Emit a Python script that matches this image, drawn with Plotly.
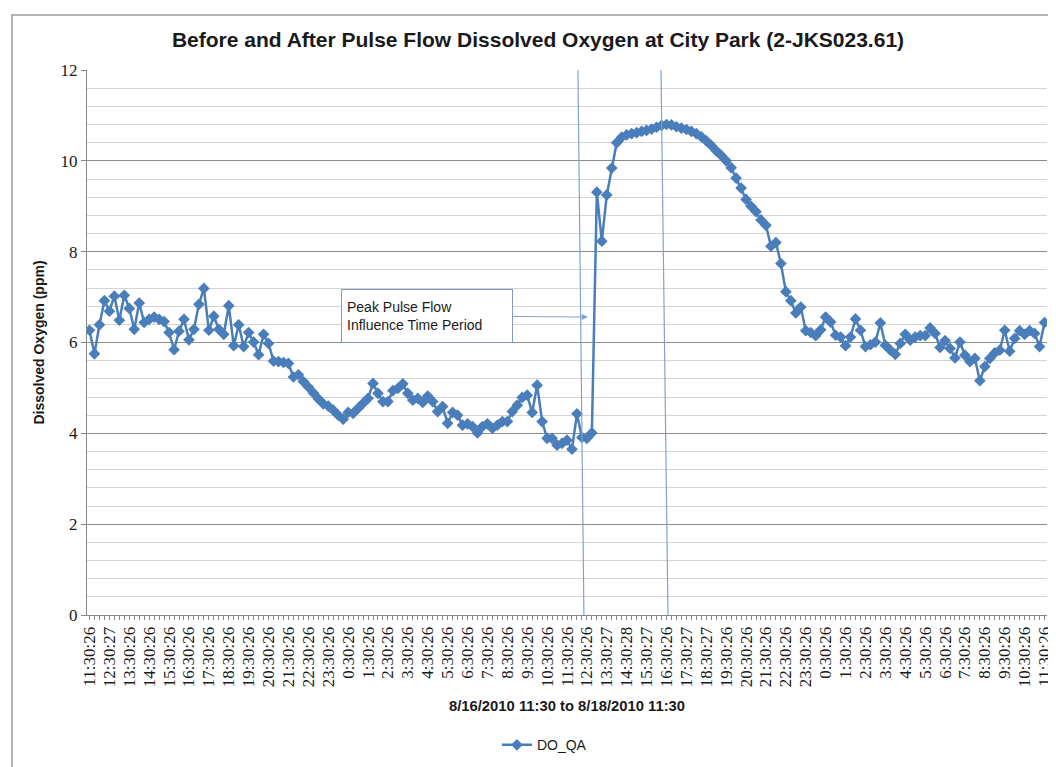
import plotly.graph_objects as go

title_text = "Before and After Pulse Flow Dissolved Oxygen at City Park (2-JKS023.61)"
x_title = "8/16/2010 11:30 to 8/18/2010 11:30"
y_title = "Dissolved Oxygen (ppm)"
series_name = "DO_QA"

# hourly tick labels (one label every 4 readings, 15-minute interval)
hour_labels = [
    "11:30:26", "12:30:27", "13:30:26", "14:30:26", "15:30:26", "16:30:26", "17:30:26",
    "18:30:26", "19:30:26", "20:30:26", "21:30:26", "22:30:26", "23:30:26", "0:30:26",
    "1:30:26", "2:30:26", "3:30:26", "4:30:26", "5:30:26", "6:30:26", "7:30:26",
    "8:30:26", "9:30:26", "10:30:26", "11:30:26", "12:30:26", "13:30:27", "14:30:28",
    "15:30:27", "16:30:26", "17:30:27", "18:30:27", "19:30:26", "20:30:26", "21:30:26",
    "22:30:26", "23:30:26", "0:30:26", "1:30:26", "2:30:26", "3:30:26", "4:30:26",
    "5:30:26", "6:30:26", "7:30:26", "8:30:26", "9:30:26", "10:30:26", "11:30:26",
]

do_day1 = [
    6.27, 5.75, 6.39, 6.92, 6.69, 7.02, 6.49, 7.04, 6.75, 6.29,
    6.87, 6.44, 6.51, 6.56, 6.51, 6.46, 6.22, 5.84, 6.25, 6.51,
    6.06, 6.29, 6.84, 7.19, 6.27, 6.58, 6.29, 6.18, 6.81, 5.93,
    6.39, 5.91, 6.22, 6.01, 5.73, 6.18, 5.98, 5.59, 5.58, 5.56,
    5.54, 5.24, 5.29, 5.14, 5.02, 4.89, 4.76, 4.65, 4.60, 4.51,
]
do_night1 = [
    4.40, 4.31, 4.46, 4.44, 4.55, 4.66, 4.77, 5.10, 4.88, 4.70,
    4.70, 4.94, 4.99, 5.09, 4.88, 4.73, 4.77, 4.68, 4.82, 4.70,
    4.48, 4.59, 4.22, 4.46, 4.40, 4.18, 4.21, 4.15, 4.01, 4.15,
    4.21, 4.11, 4.18, 4.26, 4.26, 4.48, 4.62, 4.79, 4.84, 4.46,
    5.06, 4.26, 3.89, 3.89, 3.74, 3.78, 3.85, 3.65, 4.43, 3.91,
    3.89, 4.01,
]
do_pulse = [
    9.31, 8.23, 9.25, 9.84, 10.40, 10.52, 10.57, 10.60, 10.62, 10.65,
    10.67, 10.70, 10.74, 10.78, 10.80, 10.79, 10.75, 10.72, 10.69, 10.65,
    10.60, 10.53, 10.44, 10.34, 10.22, 10.12,
]
do_after = [
    10.00, 9.85, 9.62, 9.40, 9.15, 9.00, 8.88, 8.70, 8.58, 8.12,
    8.20, 7.74, 7.12, 6.92, 6.65, 6.78, 6.26, 6.22, 6.15, 6.28,
    6.56, 6.45, 6.16, 6.12, 5.93, 6.12, 6.52, 6.27, 5.91, 5.95,
    6.01, 6.43, 5.94, 5.83, 5.74, 5.98, 6.18, 6.05, 6.12, 6.15,
    6.15, 6.32, 6.20, 5.89, 6.04, 5.87, 5.66, 6.01, 5.72, 5.58,
    5.65, 5.16, 5.47, 5.65, 5.77, 5.83, 6.27, 5.81, 6.09, 6.26,
    6.18, 6.26, 6.20, 5.91, 6.44,
]
do_values = do_day1 + do_night1 + do_pulse + do_after

# pulse window markers (category positions at bottom and top of the drawn lines)
pulse_start = [99.4, 98.2]
pulse_end = [116.3, 114.9]
note_text = "Peak Pulse Flow<br>Influence Time Period"
note_pos = [67.8, 6.59]
note_target = [100.2, 6.56]

x_idx = list(range(len(do_values)))
tick_vals = x_idx[::4]

blue = "#4a7ebb"
line_blue = "#7fa3d2"

# the page body adds an 8px offset; the figure is sized to fit the window
W, H = 1048, 759
L, T = 79, 62
PW, PH = 960, 545

fig = go.Figure()
fig.add_trace(go.Scatter(
    x=x_idx, y=do_values, name=series_name, mode="lines+markers",
    line=dict(color=blue, width=2.5),
    marker=dict(symbol="diamond", size=9, color=blue),
))

for xs in (pulse_start, pulse_end):
    fig.add_shape(type="line", xref="x", yref="y", x0=xs[0], y0=0, x1=xs[1], y1=12,
                  line=dict(color=line_blue, width=1.2))

# outer chart-area frame
fig.add_shape(type="rect", xref="paper", yref="paper",
              x0=(4 - L) / PW, x1=(1060 - L) / PW,
              y0=-(790 - T - PH) / PH - 0.05, y1=(T + PH - 7) / PH,
              line=dict(color="#9a9a9a", width=1.5), layer="below")

fig.add_annotation(
    x=note_target[0], y=note_target[1], ax=note_pos[0], ay=note_pos[1],
    axref="x", ayref="y", xref="x", yref="y",
    text=note_text, showarrow=True, arrowhead=2, arrowsize=1.2, arrowwidth=1,
    arrowcolor=line_blue, align="left", width=160, height=42,
    bordercolor="#7f9cc0", borderwidth=1, borderpad=5, bgcolor="white",
    font=dict(family="Liberation Sans, Arial, sans-serif", size=14, color="#1a1a1a"),
)

fig.update_layout(
    width=W, height=H,
    margin=dict(l=L, r=W - L - PW, t=T, b=H - T - PH, autoexpand=False),
    paper_bgcolor="white", plot_bgcolor="white",
    title=dict(text="<b>" + title_text + "</b>", x=530 / W, xanchor="center",
               y=1 - 32 / H, yanchor="middle",
               font=dict(family="Liberation Sans, Arial, sans-serif", size=21, color="#1a1a1a")),
    showlegend=True,
    legend=dict(orientation="h", x=0.427, xanchor="left", y=-0.239, yanchor="middle",
                font=dict(family="Liberation Sans, Arial, sans-serif", size=14, color="#1a1a1a"),
                bgcolor="rgba(0,0,0,0)"),
    font=dict(family="Liberation Serif, Times New Roman, serif", color="#1a1a1a"),
)

fig.update_xaxes(
    automargin=False,
    range=[-0.5, len(do_values) - 0.5],
    tickmode="array", tickvals=tick_vals, ticktext=hour_labels,
    tickangle=-90, tickfont=dict(family="Liberation Serif, serif", size=17, color="#1a1a1a"),
    ticks="outside", ticklen=4, tickcolor="#868686",
    minor=dict(ticks="outside", dtick=1, tick0=0, ticklen=4, tickcolor="#868686"),
    showline=True, linecolor="#868686", linewidth=1,
    showgrid=False, zeroline=False,
    title=dict(text="<b>" + x_title + "</b>", standoff=14,
               font=dict(family="Liberation Sans, Arial, sans-serif", size=14.8, color="#1a1a1a")),
)

fig.update_yaxes(
    automargin=False,
    range=[0, 12], dtick=2, tick0=0,
    tickfont=dict(family="Liberation Serif, serif", size=17, color="#1a1a1a"),
    ticks="outside", ticklen=5, tickcolor="#868686",
    showline=True, linecolor="#868686", linewidth=1,
    showgrid=True, gridcolor="#8c8c8c", gridwidth=1,
    minor=dict(dtick=0.4, tick0=0, showgrid=True, gridcolor="#d4d4d4", gridwidth=1.2),
    zeroline=False,
    title=dict(text="<b>" + y_title + "</b>", standoff=12,
               font=dict(family="Liberation Sans, Arial, sans-serif", size=14, color="#1a1a1a")),
)

fig.write_html("out.html")
